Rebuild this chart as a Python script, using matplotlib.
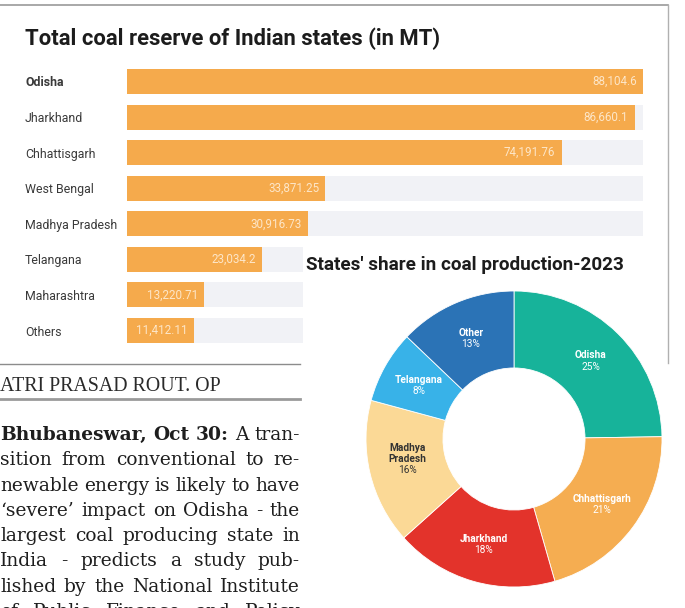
import numpy as np
import matplotlib
matplotlib.use("Agg")
from matplotlib import pyplot as plt
from matplotlib.patches import Rectangle
from matplotlib.lines import Line2D

# reserves (MT)
states = ["Odisha", "Jharkhand", "Chhattisgarh", "West Bengal", "Madhya Pradesh",
          "Telangana", "Maharashtra", "Others"]
reserves = [88104.6, 86660.1, 74191.76, 33871.25, 30916.73, 23034.2, 13220.71, 11412.11]

# production share 2023 (%)
share_names = ["Odisha", "Chhattisgarh", "Jharkhand", "Madhya\nPradesh", "Telangana", "Other"]
share_pct = [25, 21, 18, 16, 8, 13]
share_colors = ["#17b39a", "#f5ad51", "#e3332b", "#fbd996", "#38b2e8", "#2b73b6"]
share_text = ["white", "white", "white", "#333333", "white", "white"]

body_lines = [
    "Bhubaneswar, Oct 30: A tran-",
    "sition from conventional to re-",
    "newable energy is likely to have",
    "\u2018severe\u2019 impact on Odisha - the",
    "largest coal producing state in",
    "India - predicts a study pub-",
    "lished by the National Institute",
    "of Public Finance and Policy",
]

W, H = 685, 608
SANS = "Roboto"
SERIF = "DejaVu Serif"


def fx(x):
    return x / W


def fy(y):
    return 1 - y / H


fig = plt.figure(figsize=(W / 100, H / 100), dpi=100)
fig.patch.set_facecolor("white")

# ---- bar chart
ax = fig.add_axes([fx(127), fy(348.3), (643 - 127) / W, (348.3 - 63.7) / H])
n = len(states)
ypos = np.arange(n)
vmax = max(reserves)
ax.barh(ypos, [vmax] * n, height=0.7, color="#f1f2f6", zorder=1)
ax.barh(ypos, reserves, height=0.7, color="#f5aa4c", zorder=2)
ax.set_xlim(0, vmax)
ax.set_ylim(n - 0.5, -0.5)
ax.set_yticks(ypos)
ax.set_yticklabels(states)
ax.tick_params(axis="y", length=0, pad=(127 - 25) * 0.72)
for i, lab in enumerate(ax.get_yticklabels()):
    lab.set_horizontalalignment("left")
    lab.set_fontfamily(SANS)
    lab.set_fontsize(8.9)
    lab.set_color("#3a3a3a")
    if i == 0:
        lab.set_fontweight("bold")
ax.set_xticks([])
for s in ax.spines.values():
    s.set_visible(False)
ax.patch.set_alpha(0)
for i, v in enumerate(reserves):
    ax.annotate(f"{v:,}", xy=(v, i), xytext=(-4.5, 0), textcoords="offset points",
                ha="right", va="center", fontsize=8.4, family=SANS, color="#fde6c8",
                zorder=3)

fig.text(fx(25), fy(39), "Total coal reserve of Indian states (in MT)", fontsize=15.8,
         family=SANS, weight="bold", color="#1c1c1c", va="center", ha="left")

# frame of the bar graphic
fig.add_artist(Line2D([0, fx(668)], [fy(4.5), fy(4.5)], color="#9a9a9a", lw=1.2))
fig.add_artist(Line2D([fx(668), fx(668)], [fy(4.5), fy(363)], color="#b0b0b0", lw=1.0,
                      zorder=5))

# ---- donut panel
fig.add_artist(Rectangle((fx(303), 0), 1 - fx(303), fy(241), transform=fig.transFigure,
                         facecolor="white", edgecolor="none", zorder=1))
fig.text(fx(306), fy(265), "States' share in coal production-2023", fontsize=13.6,
         family=SANS, weight="bold", color="#1c1c1c", va="center", ha="left", zorder=6)

R = 148
ax_d = fig.add_axes([fx(514 - R), fy(439 + R), 2 * R / W, 2 * R / H])
ax_d.set_zorder(2)
wedges, _ = ax_d.pie(share_pct, colors=share_colors, startangle=90, counterclock=False,
                     radius=1, wedgeprops=dict(width=0.52, edgecolor="white", linewidth=0.6))
ax_d.set_xlim(-1, 1)
ax_d.set_ylim(-1, 1)
ax_d.axis("off")
for w, name, pct, tc in zip(wedges, share_names, share_pct, share_text):
    ang = np.deg2rad((w.theta1 + w.theta2) / 2)
    x, y = 0.74 * np.cos(ang), 0.74 * np.sin(ang)
    ax_d.annotate(name, xy=(x, y), xytext=(0, 0.5), textcoords="offset points",
                  ha="center", va="bottom", fontsize=7.3, family=SANS, weight="bold",
                  color=tc, linespacing=1.1)
    ax_d.annotate(f"{pct}%", xy=(x, y), xytext=(0, -0.5), textcoords="offset points",
                  ha="center", va="top", fontsize=7.3, family=SANS, color=tc)

# ---- newspaper text
fig.add_artist(Line2D([0, fx(300)], [fy(364), fy(364)], color="#8c8c8c", lw=1.0))
fig.add_artist(Line2D([0, fx(300)], [fy(399), fy(399)], color="#9a9a9a", lw=2.0))
fig.text(0, fy(391), "ATRI PRASAD ROUT. OP", fontsize=14.3, family="Liberation Serif",
         color="#2a2a2a", va="baseline", ha="left")

renderer = fig.canvas.get_renderer()


def justify(line, y, bold_words=0, x0=0, x1=300, size=13.4):
    words = line.split(" ")
    texts = []
    for k, wd in enumerate(words):
        texts.append(fig.text(0, fy(y), wd, fontsize=size, family=SERIF, color="#1e1e1e",
                              weight="bold" if k < bold_words else "normal",
                              va="baseline", ha="left"))
    widths = [t.get_window_extent(renderer).width for t in texts]
    gap = (x1 - x0 - sum(widths)) / max(len(texts) - 1, 1)
    gap = max(gap, 2.5)
    x = x0
    for t, wd in zip(texts, widths):
        t.set_x(fx(x))
        x += wd + gap


for k, line in enumerate(body_lines):
    justify(line, 440 + 25.3 * k, bold_words=3 if k == 0 else 0)

fig.savefig("out.png", dpi=100)
